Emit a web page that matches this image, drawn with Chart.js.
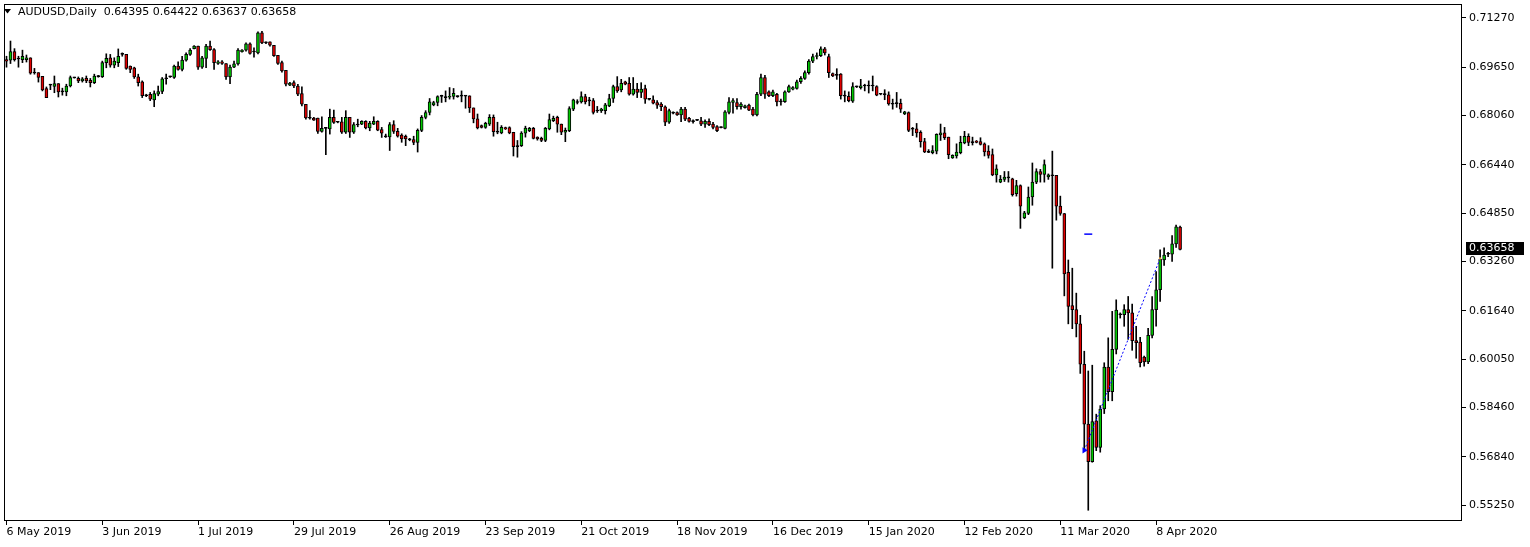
<!DOCTYPE html>
<html>
<head>
<meta charset="utf-8">
<script src="https://cdn.jsdelivr.net/npm/chart.js@4.4.1/dist/chart.umd.min.js"></script>
<style>
  html, body { margin: 0; padding: 0; background: #fff; }
  canvas { display: block; }
</style>
</head>
<body>
<canvas id="chart" width="1530" height="547"></canvas>
<script>
// AUDUSD daily bars, 6 May 2019 .. 15 Apr 2020 (bar index = position on the chart)
const opens = [
  .6990,.6988,.7016,.6993,.6990,.6990,.6996,.6946,.6947,.6935,
  .6895,.6906,.6902,.6911,.6884,.6884,.6903,.6931,.6928,.6920,
  .6928,.6922,.6914,.6934,.6934,.6980,.6996,.6972,.6980,.7007,
  .7007,.6969,.6963,.6933,.6917,.6871,.6876,.6857,.6876,.6885,
  .6927,.6933,.6931,.6969,.6958,.6988,.7007,.7026,.7034,.6965,
  .6994,.7034,.7023,.6977,.6983,.6977,.6933,.6965,.6976,.7016,
  .7021,.7042,.7016,.7012,.7078,.7046,.7048,.7037,.7004,.6980,
  .6955,.6906,.6914,.6903,.6878,.6843,.6798,.6798,.6798,.6754,
  .6764,.6762,.6800,.6784,.6785,.6751,.6800,.6751,.6776,.6778,
  .6787,.6765,.6778,.6787,.6760,.6737,.6736,.6776,.6754,.6742,
  .6738,.6727,.6727,.6718,.6757,.6800,.6816,.6841,.6849,.6869,
  .6866,.6866,.6869,.6869,.6871,.6871,.6871,.6831,.6795,.6773,
  .6767,.6778,.6800,.6751,.6749,.6766,.6766,.6751,.6705,.6707,
  .6748,.6756,.6764,.6735,.6731,.6724,.6762,.6789,.6800,.6778,
  .6751,.6756,.6827,.6849,.6851,.6868,.6855,.6855,.6822,.6822,
  .6822,.6838,.6862,.6901,.6890,.6917,.6912,.6876,.6893,.6882,
  .6895,.6860,.6858,.6849,.6844,.6835,.6784,.6815,.6816,.6808,
  .6827,.6797,.6787,.6791,.6789,.6778,.6787,.6778,.6770,.6767,
  .6764,.6816,.6849,.6849,.6835,.6832,.6840,.6827,.6808,.6876,
  .6931,.6884,.6871,.6876,.6851,.6852,.6884,.6893,.6895,.6917,
  .6928,.6947,.6985,.7000,.7003,.7025,.7000,.6944,.6939,.6942,
  .6871,.6869,.6853,.6900,.6898,.6903,.6904,.6904,.6901,.6876,
  .6876,.6874,.6844,.6846,.6846,.6811,.6816,.6762,.6762,.6751,
  .6720,.6686,.6684,.6689,.6742,.6749,.6735,.6667,.6673,.6684,
  .6716,.6738,.6718,.6722,.6720,.6713,.6689,.6678,.6611,.6587,
  .6596,.6601,.6598,.6549,.6576,.6469,.6484,.6538,.6587,.6622,
  .6612,.6604,.6609,.6609,.6508,.6484,.6290,.6181,.6168,.6121,
  .5988,.5791,.5668,.5802,.5715,.5841,.5979,.5898,.6037,.6151,
  .6151,.6168,.6157,.6066,.6061,.6012,.5996,.6083,.6168,.6233,
  .6331,.6350,.6350,.6384,.64395
];
const highs = [
  .7001,.7051,.7026,.7001,.7021,.7005,.6996,.6961,.6947,.6935,
  .6900,.6909,.6936,.6911,.6896,.6909,.6936,.6932,.6933,.6931,
  .6936,.6928,.6942,.6938,.6985,.7009,.7007,.6996,.7025,.7012,
  .7007,.6969,.6965,.6942,.6920,.6876,.6882,.6887,.6903,.6931,
  .6942,.6936,.6972,.6983,.7001,.7012,.7026,.7036,.7034,.7001,
  .7040,.7051,.7026,.6987,.6987,.6977,.6972,.6985,.7026,.7023,
  .7045,.7045,.7029,.7081,.7083,.7048,.7048,.7037,.7004,.6985,
  .6955,.6915,.6920,.6909,.6900,.6843,.6822,.6800,.6798,.6802,
  .6767,.6827,.6824,.6787,.6800,.6822,.6800,.6783,.6794,.6789,
  .6789,.6787,.6802,.6789,.6767,.6745,.6783,.6789,.6764,.6746,
  .6742,.6731,.6738,.6762,.6806,.6822,.6862,.6853,.6871,.6873,
  .6887,.6898,.6895,.6871,.6887,.6871,.6871,.6831,.6811,.6775,
  .6784,.6809,.6808,.6784,.6773,.6768,.6769,.6751,.6724,.6753,
  .6771,.6767,.6767,.6736,.6735,.6767,.6811,.6804,.6804,.6778,
  .6765,.6835,.6860,.6858,.6884,.6876,.6866,.6862,.6836,.6830,
  .6846,.6876,.6906,.6934,.6925,.6919,.6931,.6931,.6912,.6914,
  .6906,.6862,.6871,.6855,.6849,.6838,.6827,.6818,.6818,.6833,
  .6833,.6800,.6792,.6792,.6800,.6792,.6795,.6784,.6773,.6769,
  .6822,.6865,.6862,.6862,.6849,.6840,.6844,.6833,.6882,.6942,
  .6938,.6887,.6890,.6879,.6860,.6887,.6906,.6901,.6923,.6934,
  .6953,.6990,.7008,.7012,.7032,.7030,.7008,.6946,.6960,.6944,
  .6887,.6884,.6914,.6903,.6925,.6909,.6920,.6936,.6904,.6877,
  .6891,.6884,.6860,.6882,.6860,.6820,.6818,.6767,.6780,.6756,
  .6731,.6694,.6707,.6746,.6778,.6767,.6735,.6677,.6713,.6738,
  .6754,.6746,.6735,.6724,.6733,.6716,.6707,.6696,.6644,.6609,
  .6622,.6622,.6600,.6593,.6578,.6491,.6571,.6650,.6631,.6629,
  .6660,.6614,.6689,.6609,.6541,.6484,.6331,.6304,.6222,.6149,
  .6031,.5966,.5985,.5824,.5852,.5993,.6075,.6162,.6200,.6157,
  .6184,.6211,.6186,.6113,.6077,.6015,.6106,.6211,.6293,.6364,
  .6371,.6356,.6411,.6446,.64422
];
const lows = [
  .6965,.6977,.6985,.6965,.6980,.6982,.6942,.6942,.6916,.6887,
  .6865,.6891,.6881,.6867,.6873,.6871,.6900,.6929,.6914,.6916,
  .6914,.6900,.6911,.6932,.6931,.6963,.6965,.6963,.6967,.7001,
  .6958,.6947,.6928,.6903,.6865,.6868,.6855,.6835,.6871,.6878,
  .6909,.6931,.6928,.6955,.6953,.6985,.7004,.7025,.6958,.6961,
  .6963,.7020,.6958,.6974,.6974,.6925,.6911,.6963,.6972,.7014,
  .7018,.7008,.6998,.7009,.7042,.7042,.7034,.7000,.6974,.6949,
  .6903,.6904,.6898,.6871,.6838,.6794,.6794,.6790,.6747,.6751,
  .6677,.6745,.6780,.6782,.6747,.6747,.6734,.6747,.6769,.6776,
  .6762,.6756,.6776,.6756,.6734,.6734,.6691,.6747,.6735,.6718,
  .6707,.6723,.6710,.6686,.6753,.6795,.6808,.6838,.6838,.6849,
  .6851,.6860,.6860,.6866,.6851,.6830,.6816,.6782,.6762,.6765,
  .6764,.6773,.6738,.6746,.6746,.6760,.6746,.6673,.6669,.6704,
  .6735,.6753,.6729,.6725,.6720,.6720,.6759,.6786,.6751,.6743,
  .6720,.6753,.6822,.6844,.6847,.6844,.6838,.6811,.6816,.6816,
  .6811,.6835,.6849,.6882,.6884,.6907,.6873,.6873,.6865,.6865,
  .6846,.6857,.6844,.6829,.6822,.6773,.6780,.6811,.6806,.6786,
  .6789,.6784,.6781,.6789,.6773,.6767,.6773,.6762,.6753,.6765,
  .6762,.6811,.6814,.6827,.6827,.6830,.6822,.6805,.6805,.6871,
  .6862,.6868,.6868,.6838,.6840,.6849,.6882,.6890,.6893,.6912,
  .6925,.6942,.6980,.6992,.7000,.7005,.6931,.6934,.6925,.6860,
  .6851,.6851,.6849,.6898,.6893,.6887,.6880,.6887,.6871,.6874,
  .6858,.6840,.6827,.6833,.6816,.6809,.6753,.6740,.6735,.6702,
  .6684,.6684,.6680,.6680,.6724,.6727,.6664,.6665,.6666,.6680,
  .6713,.6707,.6709,.6716,.6709,.6673,.6666,.6608,.6587,.6585,
  .6589,.6587,.6541,.6541,.6435,.6467,.6480,.6511,.6582,.6587,
  .6587,.6596,.6304,.6462,.6478,.6213,.6121,.6105,.6078,.5958,
  .5704,.5508,.5666,.5704,.5699,.5826,.5868,.5868,.6022,.6140,
  .6113,.6070,.6034,.6008,.5979,.5982,.5990,.6075,.6113,.6195,
  .6313,.6342,.6326,.6372,.63637
];
const closes = [
  .6985,.7016,.6990,.6992,.7001,.6996,.6945,.6947,.6931,.6890,
  .6865,.6907,.6911,.6884,.6885,.6903,.6931,.6930,.6920,.6927,
  .6920,.6914,.6936,.6935,.6980,.6994,.6972,.6985,.7001,.7008,
  .6961,.6958,.6933,.6914,.6871,.6872,.6860,.6878,.6885,.6927,
  .6928,.6934,.6969,.6958,.6988,.7007,.7021,.7034,.6965,.6996,
  .7034,.7023,.6980,.6983,.6977,.6933,.6965,.6976,.7021,.7021,
  .7042,.7010,.7015,.7078,.7045,.7045,.7037,.7003,.6977,.6953,
  .6909,.6913,.6903,.6876,.6843,.6798,.6797,.6791,.6754,.6764,
  .6765,.6800,.6783,.6785,.6751,.6800,.6751,.6776,.6775,.6787,
  .6765,.6781,.6787,.6758,.6748,.6736,.6776,.6754,.6738,.6729,
  .6729,.6726,.6718,.6757,.6800,.6816,.6851,.6849,.6868,.6870,
  .6865,.6869,.6879,.6868,.6870,.6870,.6831,.6795,.6765,.6767,
  .6780,.6800,.6753,.6752,.6767,.6762,.6749,.6704,.6704,.6748,
  .6765,.6764,.6731,.6729,.6724,.6764,.6793,.6797,.6778,.6751,
  .6757,.6829,.6858,.6850,.6868,.6851,.6854,.6816,.6821,.6827,
  .6841,.6862,.6901,.6887,.6912,.6909,.6876,.6893,.6882,.6893,
  .6860,.6859,.6847,.6840,.6835,.6784,.6822,.6814,.6808,.6827,
  .6794,.6787,.6786,.6790,.6778,.6787,.6776,.6767,.6756,.6766,
  .6818,.6851,.6855,.6835,.6844,.6838,.6824,.6808,.6876,.6931,
  .6876,.6871,.6884,.6851,.6852,.6884,.6901,.6898,.6917,.6928,
  .6947,.6985,.7000,.7003,.7025,.7012,.6947,.6936,.6938,.6871,
  .6870,.6855,.6901,.6902,.6904,.6904,.6903,.6903,.6873,.6876,
  .6875,.6844,.6843,.6845,.6827,.6818,.6757,.6761,.6749,.6720,
  .6686,.6685,.6691,.6744,.6749,.6733,.6677,.6675,.6686,.6718,
  .6738,.6718,.6717,.6718,.6711,.6686,.6675,.6611,.6631,.6596,
  .6604,.6602,.6546,.6576,.6508,.6486,.6538,.6587,.6622,.6612,
  .6645,.6611,.6608,.6508,.6484,.6285,.6178,.6168,.6121,.5988,
  .5791,.5668,.5800,.5715,.5841,.5979,.5898,.6037,.6166,.6152,
  .6168,.6157,.6066,.6059,.5993,.5996,.6083,.6168,.6233,.6334,
  .6347,.6351,.6384,.6440,.63658
];

// time axis labels (one every 24 bars)
const dateLabels = ['6 May 2019', '3 Jun 2019', '1 Jul 2019', '29 Jul 2019', '26 Aug 2019',
  '23 Sep 2019', '21 Oct 2019', '18 Nov 2019', '16 Dec 2019', '15 Jan 2020',
  '12 Feb 2020', '11 Mar 2020', '8 Apr 2020'];
const dateBars = [0, 24, 48, 72, 96, 120, 144, 168, 192, 216, 240, 264, 288];

// price axis labels
const priceTicks = [0.71270, 0.69650, 0.68060, 0.66440, 0.64850, 0.63260,
  0.61640, 0.60050, 0.58460, 0.56840, 0.55250];

// trade markers: open -> close, plus the short level mark
const tradeBars = [270, 289];
const tradePrices = [0.5705, 0.6336];
const levelBars = [270, 272];
const levelPrices = [0.6416, 0.6416];

const symbol = 'AUDUSD,Daily';
const lastBar = closes.length - 1;

const FONT = { family: 'DejaVu Sans', size: 11 };

const wickData = lows.map((l, i) => ({ x: i, y: [l, highs[i]] }));
const bodyData = opens.map((o, i) => ({ x: i, y: [o, closes[i]] }));

const bodyColor = (ctx) => {
    const i = ctx.dataIndex;
    if (i === undefined) return '#000';
    const d = closes[i] - opens[i];
    if (Math.abs(d) < 0.00025) return '#000000';
    return d > 0 ? '#00c800' : '#e00000';
};

// frame, header text and the current price box
const mtDecor = {
    id: 'mtDecor',
    afterDraw(chart) {
        const ctx = chart.ctx;
        const a = chart.chartArea;
        ctx.save();
        ctx.strokeStyle = '#000';
        ctx.lineWidth = 1;
        ctx.strokeRect(a.left + 0.5, a.top + 0.5, a.right - a.left - 1, a.bottom - a.top - 1);

        // header
        ctx.fillStyle = '#000';
        ctx.beginPath();
        ctx.moveTo(4, 9);
        ctx.lineTo(11, 9);
        ctx.lineTo(7.5, 13.5);
        ctx.closePath();
        ctx.fill();
        ctx.font = '11px "DejaVu Sans"';
        ctx.textBaseline = 'middle';
        ctx.textAlign = 'left';
        const ohlc = [opens[lastBar], highs[lastBar], lows[lastBar], closes[lastBar]].map(v => v.toFixed(5));
        ctx.fillText(symbol + '  ' + ohlc.join(' '), 18, 12.5);

        // current price label on the right axis
        const y = chart.scales.y.getPixelForValue(closes[lastBar]);
        ctx.fillStyle = '#000';
        ctx.fillRect(1466, Math.round(y) - 7, 58, 13);
        ctx.fillStyle = '#fff';
        ctx.fillText(closes[lastBar].toFixed(5), 1469, Math.round(y) - 0.5);
        ctx.restore();
    }
};

new Chart('chart', {
    type: 'bar',
    data: {
        datasets: [
            {
                type: 'line',
                data: tradeBars.map((b, i) => ({ x: b, y: tradePrices[i] })),
                borderColor: '#0000ff',
                borderWidth: 1,
                borderDash: [2, 2],
                pointStyle: ['triangle', 'rect'],
                rotation: [90, 0],
                pointRadius: [3.5, 1.5],
                pointBackgroundColor: ['#0000ff', '#e0a030'],
                pointBorderWidth: 0,
                order: 0
            },
            {
                type: 'line',
                data: levelBars.map((b, i) => ({ x: b, y: levelPrices[i] })),
                borderColor: '#0000ff',
                borderWidth: 1.5,
                pointRadius: 0,
                order: 0
            },
            {
                data: bodyData,
                backgroundColor: bodyColor,
                borderColor: '#000',
                borderWidth: 1,
                borderSkipped: false,
                barThickness: 3,
                minBarLength: 1,
                grouped: false,
                order: 1
            },
            {
                data: wickData,
                backgroundColor: '#000',
                borderWidth: 0,
                barThickness: 1,
                grouped: false,
                order: 2
            }
        ]
    },
    options: {
        responsive: false,
        animation: false,
        layout: { padding: { left: 1, top: 1, right: 0, bottom: 0 } },
        plugins: {
            legend: { display: false },
            tooltip: { enabled: false }
        },
        scales: {
            x: {
                type: 'linear',
                position: 'bottom',
                offset: false,
                min: -0.625,
                max: 364.625,
                border: { display: false },
                grid: { offset: false, drawOnChartArea: false, drawTicks: true, tickLength: 4, color: '#000' },
                afterBuildTicks: (scale) => {
                    scale.ticks = dateBars.map(v => ({ value: v }));
                },
                afterFit: (scale) => {
                    scale.height = 26;
                    scale.paddingLeft = 0;
                    scale.paddingRight = 0;
                },
                ticks: {
                    align: 'start',
                    autoSkip: false,
                    maxRotation: 0,
                    padding: 1,
                    color: '#000',
                    font: FONT,
                    callback: (v) => dateLabels[dateBars.indexOf(v)]
                }
            },
            y: {
                type: 'linear',
                position: 'right',
                min: 0.547269,
                max: 0.717277,
                border: { display: false },
                grid: { drawOnChartArea: false, drawTicks: true, tickLength: 4, color: '#000' },
                afterBuildTicks: (scale) => {
                    scale.ticks = priceTicks.map(v => ({ value: v }));
                },
                afterFit: (scale) => {
                    scale.width = 68;
                    scale.paddingTop = 0;
                    scale.paddingBottom = 0;
                },
                ticks: {
                    padding: 3,
                    color: '#000',
                    font: FONT,
                    callback: (v) => v.toFixed(5)
                }
            }
        }
    },
    plugins: [mtDecor]
});
</script>
</body>
</html>
